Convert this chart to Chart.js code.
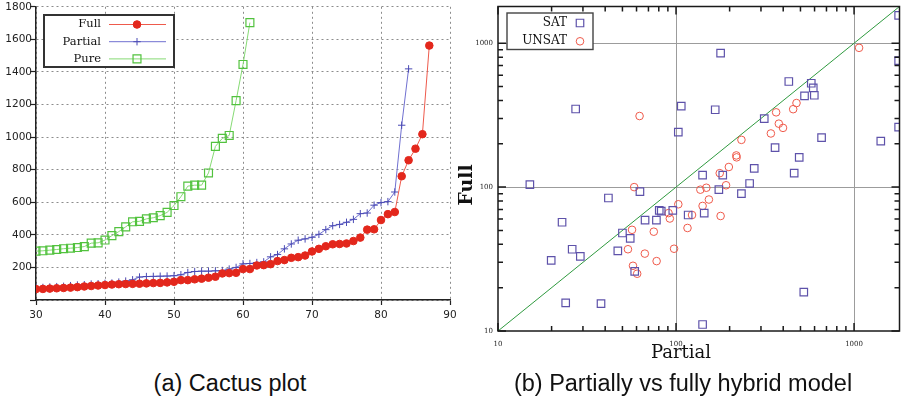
<!DOCTYPE html>
<html lang="en">
<head>
<meta charset="UTF-8">
<title>Cactus plot / partially vs fully hybrid model</title>
<script src="https://cdn.jsdelivr.net/npm/chart.js"></script>
<style>
    body {
        margin: 0;
        background: #fff;
        width: 906px;
        height: 408px;
        position: relative;
        overflow: hidden;
    }
    #cactus { position: absolute; left: 0; top: 0; }
    #scatter { position: absolute; left: 440px; top: 0; }
    .caption {
        position: absolute;
        top: 370px;
        font-family: "Liberation Sans", Arial, sans-serif;
        font-size: 23.5px;
        line-height: 27px;
        color: #111;
        white-space: nowrap;
        transform: translateX(-50%);
    }
</style>
</head>
<body>
<canvas id="cactus" width="458" height="325" style="width:458px;height:325px"></canvas>
<canvas id="scatter" width="466" height="365" style="width:466px;height:365px"></canvas>
<div class="caption" style="left:230px">(a) Cactus plot</div>
<div class="caption" style="left:683px">(b) Partially vs fully hybrid model</div>

<script>
// ---- (a) cactus plot: solving time of the n-th solved instance ----
const firstSolved = 30;
const fullTimes = [67, 68, 70, 72, 74, 76, 79, 83, 86, 89, 92, 95, 97, 98, 99, 100, 102, 104, 105, 108,
    112, 122, 122, 127, 131, 137, 143, 163, 165, 167, 190, 190, 212, 214, 220, 239, 245, 259, 263, 273,
    298, 314, 330, 342, 344, 347, 362, 383, 432, 434, 491, 527, 540, 760, 858, 929, 1018, 1562];
const partialTimes = [76, 77, 80, 82, 84, 88, 92, 94, 98, 100, 102, 104, 110, 116, 124, 141, 144, 145, 146, 147,
    149, 155, 169, 175, 177, 177, 179, 181, 190, 200, 222, 224, 230, 234, 265, 279, 314, 344, 367, 375,
    385, 403, 432, 456, 464, 477, 495, 530, 534, 582, 598, 604, 663, 1073, 1419];
const pureTimes = [300, 302, 306, 310, 315, 318, 322, 328, 349, 351, 368, 395, 420, 449, 480, 483, 498, 505, 518, 538,
    580, 634, 699, 705, 705, 780, 943, 992, 1010, 1224, 1446, 1703];

const cactusXTicks = [30, 40, 50, 60, 70, 80, 90];
const cactusYTicks = [0, 200, 400, 600, 800, 1000, 1200, 1400, 1600, 1800];

// ---- (b) per-instance times, partially (x) vs fully (y) hybrid model ----
const satPartial = [178, 1780, 1780, 1780, 430, 575, 590, 527, 598, 166, 313, 657, 1413, 360, 492, 275, 141, 183,
    461, 259, 174, 233, 144, 117, 522, 141, 15.1, 62.7, 41.7, 22.9, 80.5, 82.6, 95.9, 67, 77.6, 50, 55.3,
    26.1, 47.1, 29, 19.9, 58.6, 24, 37.9, 27.3, 107, 103];
const satFull = [853, 1560, 757, 261, 542, 527, 490, 431, 435, 345, 299, 221, 209, 188, 161, 135, 121, 121,
    125, 106, 96, 90, 66, 64, 18.6, 11.1, 104, 93, 84, 57, 69, 68, 69, 59, 59, 48, 44,
    37, 36, 33, 31, 26, 15.7, 15.5, 349, 366, 241];
const unsatPartial = [1067, 475, 455, 365, 378, 399, 341, 233, 218, 219, 198, 176, 191, 148, 137, 153, 141, 123,
    178, 116, 58.2, 103, 90.8, 92.3, 56.6, 75, 53.7, 66.8, 97.5, 77.8, 57.3, 60.5, 62.4];
const unsatFull = [929, 384, 348, 331, 276, 258, 236, 213, 166, 161, 138, 125, 103, 99, 96, 82, 74, 64,
    63, 52, 100, 76, 66, 60.5, 50.5, 49, 37, 34.5, 37.3, 30.6, 28.4, 25, 312];

const logTicks = [10, 20, 30, 40, 50, 60, 70, 80, 90, 100, 200, 300, 400, 500, 600, 700, 800, 900, 1000];
const decades = [10, 100, 1000];
const axisLimit = [10, 1800];

Chart.defaults.font.family = '"DejaVu Sans", sans-serif';
Chart.defaults.color = '#222';

const pair = (xs, ys) => xs.map((v, i) => ({ x: v, y: ys[i] }));
const cactusSeries = arr => arr.map((v, i) => ({ x: firstSolved + i, y: v }));

// fixed axis boxes so both plot areas sit where they should
function fixWidth(w) {
    return s => { s.width = w; s.paddingTop = s.paddingBottom = s.paddingLeft = s.paddingRight = 0; };
}
function fixHeight(h) {
    return s => { s.height = h; s.paddingTop = s.paddingBottom = s.paddingLeft = s.paddingRight = 0; };
}

// legend box: text on the left, line sample + marker on the right
const cactusLegend = {
    id: 'cactusLegend',
    afterDraw(chart) {
        const ctx = chart.ctx;
        ctx.save();
        ctx.fillStyle = '#fff';
        ctx.fillRect(44, 15, 130, 52);
        ctx.strokeStyle = '#333';
        ctx.lineWidth = 2;
        ctx.strokeRect(44, 15, 130, 52);
        ctx.font = '11.5px "DejaVu Serif", serif';
        ctx.textAlign = 'right';
        ctx.textBaseline = 'middle';
        chart.data.datasets.forEach((ds, i) => {
            const y = 24.5 + i * 17.2;
            ctx.fillStyle = '#111';
            ctx.fillText(ds.label, 101, y);
            ctx.strokeStyle = ds.borderColor;
            ctx.lineWidth = 1;
            ctx.beginPath();
            ctx.moveTo(109, y);
            ctx.lineTo(166, y);
            ctx.stroke();
            ctx.fillStyle = ds.pointBackgroundColor;
            ctx.strokeStyle = ds.pointBorderColor;
            ctx.lineWidth = ds.pointBorderWidth;
            Chart.helpers.drawPoint(ctx, {
                pointStyle: ds.pointStyle, radius: ds.pointRadius,
                borderWidth: ds.pointBorderWidth, rotation: 0
            }, 137, y);
        });
        ctx.restore();
    }
};

new Chart(document.getElementById('cactus'), {
    type: 'line',
    data: {
        datasets: [
            {
                label: 'Full',
                data: cactusSeries(fullTimes),
                borderColor: '#ee5a4c',
                borderWidth: 1,
                pointStyle: 'circle',
                pointRadius: 3.8,
                pointBackgroundColor: '#e3271c',
                pointBorderColor: '#e3271c',
                pointBorderWidth: 1
            },
            {
                label: 'Partial',
                data: cactusSeries(partialTimes),
                borderColor: '#7070d0',
                borderWidth: 1,
                pointStyle: 'cross',
                pointRadius: 3.7,
                pointBackgroundColor: '#4a4ab4',
                pointBorderColor: '#4a4ab4',
                pointBorderWidth: 1
            },
            {
                label: 'Pure',
                data: cactusSeries(pureTimes),
                borderColor: '#86da74',
                borderWidth: 1,
                pointStyle: 'rect',
                pointRadius: 5.6,
                pointBackgroundColor: 'rgba(0,0,0,0)',
                pointBorderColor: '#52c23e',
                pointBorderWidth: 1.2
            }
        ]
    },
    options: {
        responsive: false,
        animation: false,
        events: [],
        layout: { padding: { left: 0, right: 8, top: 6, bottom: 0 } },
        plugins: { legend: { display: false }, tooltip: { enabled: false } },
        scales: {
            x: {
                type: 'linear',
                min: 30,
                max: 90,
                afterFit: fixHeight(25),
                afterBuildTicks: s => { s.ticks = cactusXTicks.map(v => ({ value: v })); },
                grid: { color: '#8c8c8c', lineWidth: 1, tickLength: 5, tickColor: '#222', tickWidth: 1.2 },
                border: { color: '#222', width: 1.5, dash: [2, 3] },
                ticks: { font: { size: 10.5 }, padding: 4, maxRotation: 0, autoSkip: false }
            },
            y: {
                type: 'linear',
                min: 0,
                max: 1800,
                afterFit: fixWidth(36),
                afterBuildTicks: s => { s.ticks = cactusYTicks.map(v => ({ value: v })); },
                grid: { color: '#8c8c8c', lineWidth: 1, tickLength: 6, tickColor: '#222', tickWidth: 1.2 },
                border: { color: '#222', width: 1.5, dash: [2, 3] },
                ticks: {
                    font: { size: 10.5 },
                    padding: -2,
                    autoSkip: false,
                    callback: v => (v === 0 ? '' : String(v))
                }
            }
        }
    },
    plugins: [cactusLegend]
});

// frame, inward log ticks, axis titles and legend for the scatter plot
const scatterDecor = {
    id: 'scatterDecor',
    afterDraw(chart) {
        const { ctx, chartArea: a, scales: { x, y } } = chart;
        ctx.save();
        ctx.strokeStyle = '#1a1a1a';
        ctx.lineWidth = 1.5;
        ctx.strokeRect(a.left, a.top, a.right - a.left, a.bottom - a.top);

        ctx.beginPath();
        x.ticks.forEach(t => {
            const px = x.getPixelForValue(t.value);
            const len = decades.includes(t.value) ? 8 : 5;
            ctx.moveTo(px, a.bottom); ctx.lineTo(px, a.bottom - len);
            ctx.moveTo(px, a.top); ctx.lineTo(px, a.top + len);
        });
        y.ticks.forEach(t => {
            const py = y.getPixelForValue(t.value);
            const len = decades.includes(t.value) ? 8 : 5;
            ctx.moveTo(a.left, py); ctx.lineTo(a.left + len, py);
            ctx.moveTo(a.right, py); ctx.lineTo(a.right - len, py);
        });
        ctx.stroke();

        // axis titles
        ctx.fillStyle = '#111';
        ctx.textAlign = 'center';
        ctx.textBaseline = 'middle';
        ctx.font = '18px "DejaVu Serif", serif';
        ctx.fillText('Partial', 241, 353);
        ctx.save();
        ctx.translate(27, 185);
        ctx.rotate(-Math.PI / 2);
        ctx.font = 'bold 19px "DejaVu Serif", serif';
        ctx.fillText('Full', 0, 0);
        ctx.restore();

        // legend
        ctx.fillStyle = '#fff';
        ctx.fillRect(67, 13, 86, 36.5);
        ctx.strokeStyle = '#444';
        ctx.lineWidth = 1.4;
        ctx.strokeRect(67, 13, 86, 36.5);
        ctx.font = '12px "DejaVu Serif", serif';
        ctx.textAlign = 'right';
        const shown = chart.data.datasets.filter(ds => ds.inLegend);
        shown.forEach((ds, i) => {
            const ly = 23 + i * 18.3;
            ctx.fillStyle = '#111';
            ctx.fillText(ds.label, 127, ly);
            ctx.fillStyle = 'rgba(0,0,0,0)';
            ctx.strokeStyle = ds.pointBorderColor;
            ctx.lineWidth = ds.pointBorderWidth;
            Chart.helpers.drawPoint(ctx, {
                pointStyle: ds.pointStyle, radius: ds.pointRadius,
                borderWidth: ds.pointBorderWidth, rotation: 0
            }, 140, ly);
        });
        ctx.restore();
    }
};

const logAxis = (fit, labelPad) => ({
    type: 'logarithmic',
    min: axisLimit[0],
    max: axisLimit[1],
    afterFit: fit,
    afterBuildTicks: s => { s.ticks = logTicks.map(v => ({ value: v })); },
    grid: {
        drawTicks: false,
        lineWidth: 1,
        color: c => (c.tick && (c.tick.value === 100 || c.tick.value === 1000)) ? '#9c9c9c' : 'rgba(0,0,0,0)'
    },
    border: { display: false },
    ticks: {
        autoSkip: false,
        maxRotation: 0,
        padding: labelPad,
        font: { family: '"DejaVu Serif", serif', size: 7 },
        callback: v => (decades.includes(v) ? String(v) : '')
    }
});

new Chart(document.getElementById('scatter'), {
    type: 'scatter',
    data: {
        datasets: [
            {
                label: 'SAT',
                inLegend: true,
                data: pair(satPartial, satFull),
                pointStyle: 'rect',
                pointRadius: 5.3,
                pointBackgroundColor: 'rgba(0,0,0,0)',
                pointBorderColor: '#5e52aa',
                pointBorderWidth: 1.2,
                order: 1
            },
            {
                label: 'UNSAT',
                inLegend: true,
                data: pair(unsatPartial, unsatFull),
                pointStyle: 'circle',
                pointRadius: 3.8,
                pointBackgroundColor: 'rgba(0,0,0,0)',
                pointBorderColor: '#ef5a4b',
                pointBorderWidth: 1,
                order: 1
            },
            {
                type: 'line',
                label: 'x = y',
                data: pair(axisLimit, axisLimit),
                borderColor: '#2f9a3f',
                borderWidth: 1,
                pointRadius: 0,
                order: 3
            }
        ]
    },
    options: {
        responsive: false,
        animation: false,
        events: [],
        layout: { padding: { left: 0, right: 1, top: 3, bottom: 0 } },
        plugins: { legend: { display: false }, tooltip: { enabled: false } },
        scales: {
            x: logAxis(fixHeight(34), 9),
            y: logAxis(fixWidth(58), 5)
        }
    },
    plugins: [scatterDecor]
});
</script>
</body>
</html>
